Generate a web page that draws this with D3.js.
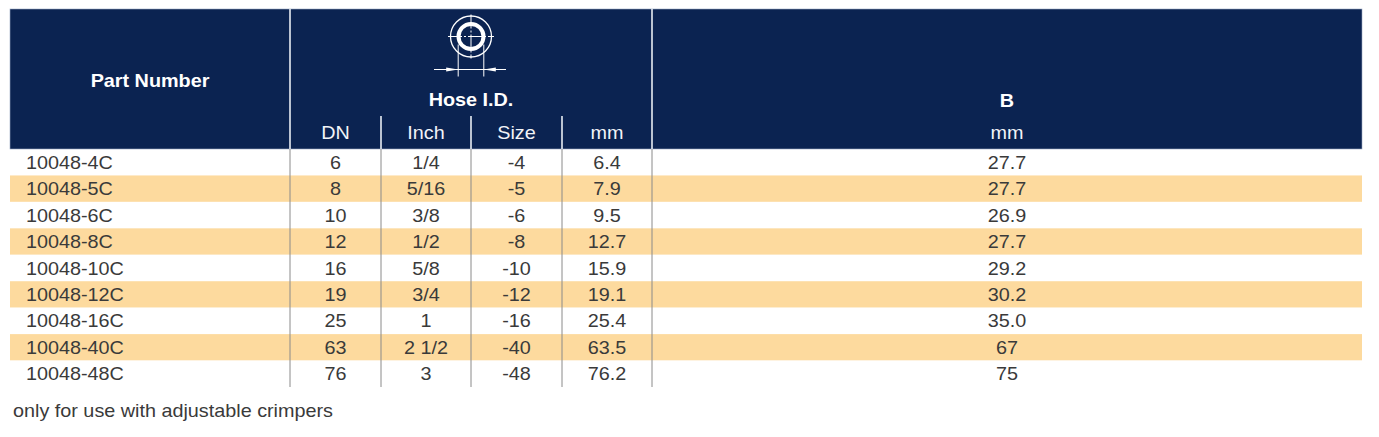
<!DOCTYPE html>
<html>
<head>
<meta charset="utf-8">
<script src="https://cdn.jsdelivr.net/npm/d3@7/dist/d3.min.js"></script>
<style>
  body { margin: 0; background: #fff; }
  svg { display: block; font-family: "Liberation Sans", Arial, Helvetica, sans-serif; }
</style>
</head>
<body>
<div id="chart"></div>
<script>
// table values
var partNumbers = ['10048-4C', '10048-5C', '10048-6C', '10048-8C', '10048-10C', '10048-12C', '10048-16C', '10048-40C', '10048-48C'];
var dn = ['6', '8', '10', '12', '16', '19', '25', '63', '76'];
var inch = ['1/4', '5/16', '3/8', '1/2', '5/8', '3/4', '1', '2 1/2', '3'];
var sizes = ['-4', '-5', '-6', '-8', '-10', '-12', '-16', '-40', '-48'];
var idMm = ['6.4', '7.9', '9.5', '12.7', '15.9', '19.1', '25.4', '63.5', '76.2'];
var bMm = ['27.7', '27.7', '26.9', '27.7', '29.2', '30.2', '35.0', '67', '75'];
var subHeads = ['DN', 'Inch', 'Size', 'mm'];
var footnote = 'only for use with adjustable crimpers';

var width = 1379, height = 437,
    left = 10, right = 1362,
    headTop = 9, headBottom = 149, bodyBottom = 387,
    navy = '#0b2351', stripe = '#fdda9e', ink = '#3a3a3a',
    fontSize = 18, stretch = 1.1;

// column edges: part number | DN | Inch | Size | mm | B
var edges = [left, 290, 381, 471, 562, 652, right];

var svg = d3.select('#chart')
  .append('svg')
  .attr('width', width)
  .attr('height', height);

var rows = d3.scaleBand()
  .domain(d3.range(partNumbers.length))
  .range([headBottom, bodyBottom]);

function center(i) { return (edges[i] + edges[i + 1]) / 2; }

function label(g, x, y, txt, opts) {
  opts = opts || {};
  return g.append('text')
    .attr('transform', 'translate(' + x + ',' + y + ') scale(' + stretch + ',1)')
    .attr('text-anchor', opts.anchor || 'middle')
    .attr('font-size', opts.size || fontSize)
    .attr('font-weight', opts.weight || 'normal')
    .attr('fill', opts.fill || ink)
    .text(txt);
}

// body stripes
svg.selectAll('rect.stripe')
  .data(d3.range(partNumbers.length)).enter()
  .append('rect')
  .attr('class', 'stripe')
  .attr('x', left)
  .attr('y', function (d) { return rows(d); })
  .attr('width', right - left)
  .attr('height', rows.bandwidth())
  .attr('fill', function (d) { return d % 2 ? stripe : '#fff'; });

// header block
svg.append('rect')
  .attr('x', left)
  .attr('y', headTop)
  .attr('width', right - left)
  .attr('height', headBottom - headTop)
  .attr('fill', navy)
  .attr('stroke', '#9aa9c4')
  .attr('stroke-width', 0.6);

// body column rules
svg.selectAll('line.body-rule')
  .data(edges.slice(1, 6)).enter()
  .append('line')
  .attr('class', 'body-rule')
  .attr('x1', function (d) { return d; })
  .attr('x2', function (d) { return d; })
  .attr('y1', headBottom)
  .attr('y2', bodyBottom)
  .attr('stroke', '#8a8a8a')
  .attr('stroke-width', 1);

// header rules
svg.selectAll('line.head-rule')
  .data(edges.slice(1, 6)).enter()
  .append('line')
  .attr('class', 'head-rule')
  .attr('x1', function (d) { return d; })
  .attr('x2', function (d) { return d; })
  .attr('y1', function (d, i) { return (i === 0 || i === 4) ? headTop : 116; })
  .attr('y2', headBottom)
  .attr('stroke', '#e8ecf3')
  .attr('stroke-width', 1.6);

// header labels
var head = svg.append('g');
label(head, center(0), 87, 'Part Number', { weight: 'bold', fill: '#fff' });
label(head, (edges[1] + edges[5]) / 2, 106, 'Hose I.D.', { weight: 'bold', fill: '#fff' });
label(head, center(5), 106.5, 'B', { weight: 'bold', fill: '#fff' });
subHeads.forEach(function (s, i) {
  label(head, center(i + 1), 138.5, s, { fill: '#f2f4f8' });
});
label(head, center(5), 138.5, 'mm', { fill: '#f2f4f8' });

// hose I.D. icon
var cx = (edges[1] + edges[5]) / 2, cy = 36.5;
var icon = svg.append('g')
  .attr('fill', 'none')
  .attr('stroke', '#fff');
icon.append('circle').attr('cx', cx).attr('cy', cy).attr('r', 20.5).attr('stroke-width', 1.3);
icon.append('circle').attr('cx', cx).attr('cy', cy).attr('r', 12.5).attr('stroke-width', 4);
icon.append('line').attr('x1', cx).attr('x2', cx).attr('y1', cy - 22).attr('y2', cy + 22)
  .attr('stroke-width', 1).attr('stroke-dasharray', '14,2,2,2');
icon.append('line').attr('x1', cx - 23).attr('x2', cx + 23).attr('y1', cy).attr('y2', cy)
  .attr('stroke-width', 1).attr('stroke-dasharray', '14,2,2,2');
[-12.8, 12.8].forEach(function (dx) {
  icon.append('line').attr('x1', cx + dx).attr('x2', cx + dx).attr('y1', cy + 8).attr('y2', cy + 40)
    .attr('stroke-width', 1);
});
var dy = cy + 33;
icon.append('line').attr('x1', cx - 37).attr('x2', cx + 35).attr('y1', dy).attr('y2', dy)
  .attr('stroke-width', 1);
// arrowheads pointing inward onto the extension lines
[[-12.8, -1], [12.8, 1]].forEach(function (a) {
  var tip = cx + a[0];
  icon.append('path')
    .attr('d', 'M' + tip + ',' + dy + 'L' + (tip + a[1] * 12) + ',' + (dy - 2) +
      'L' + (tip + a[1] * 12) + ',' + (dy + 2) + 'Z')
    .attr('fill', '#fff')
    .attr('stroke', 'none');
});

// body cells
var columns = [partNumbers, dn, inch, sizes, idMm, bMm];
var body = svg.append('g');
columns.forEach(function (col, c) {
  col.forEach(function (v, r) {
    var y = rows(r) + rows.bandwidth() / 2 + 6.5;
    if (c === 0) {
      label(body, 26, y, v, { anchor: 'start' });
    } else {
      label(body, center(c), y, v);
    }
  });
});

// footnote
label(svg, 13, 417, footnote, { anchor: 'start' });
</script>
</body>
</html>
